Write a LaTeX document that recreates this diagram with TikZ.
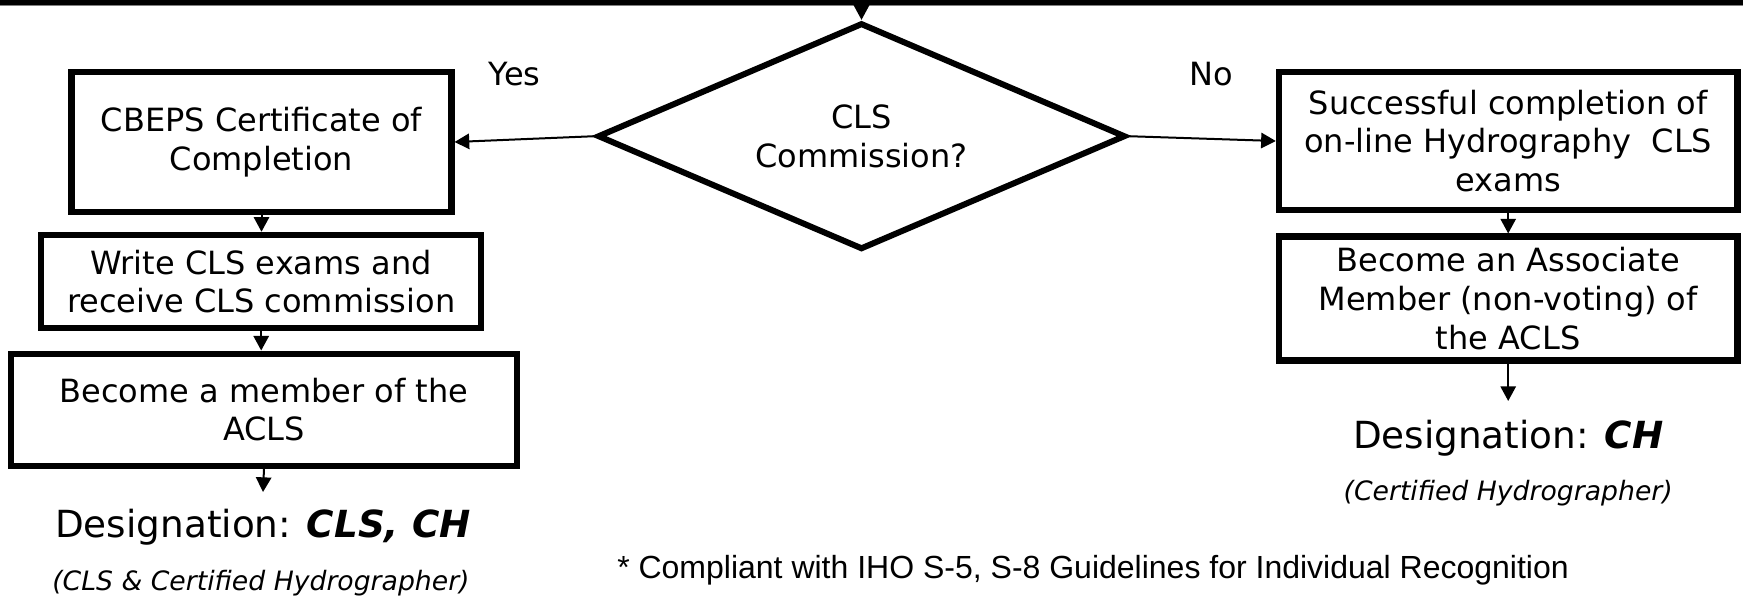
\documentclass[tikz,border=0pt]{standalone}
\usepackage{fontspec}
\setmainfont{DejaVu Sans}
\newfontfamily\arialfont{Liberation Sans}
\usetikzlibrary{shapes.geometric,arrows.meta}
\begin{document}
\begin{tikzpicture}[x=0.75pt,y=-0.75pt,
  box/.style={draw, line width=4.6pt, align=center, inner sep=0pt, font=\fontsize{24}{29}\selectfont},
  conn/.style={line width=1.5pt, -{Triangle[length=11pt,width=11.5pt]}},
  lbl/.style={font=\fontsize{24}{29}\selectfont},
  desig/.style={font=\fontsize{28}{34}\selectfont},
  subt/.style={font=\fontsize{20}{24}\selectfont\itshape},
  foot/.style={font=\arialfont\fontsize{24}{29}\selectfont, anchor=west, inner sep=0pt}]
\useasboundingbox (0,0) rectangle (1743,596);
\fill (0,0) rectangle (1743,5);
\draw[gray, line width=0.8pt] (0,5.6) -- (1743,5.6);

\node[diamond, draw, line width=4.5pt, aspect=2.26, minimum width=396pt, minimum height=170pt, inner sep=0pt, align=center, font=\fontsize{24}{29}\selectfont] (dia) at (861.5,136.2) {CLS\\Commission?};
\coordinate (top) at (861.5,5);

\node[box, minimum width=285pt, minimum height=105pt] (b1) at (261.5,142) {CBEPS Certificate of\\Completion};
\node[box, minimum width=330pt, minimum height=70pt] (b2) at (261.2,281.5) {Write CLS exams and\\receive CLS commission};
\node[box, minimum width=379pt, minimum height=84pt] (b3) at (264,409.6) {Become a member of the\\ACLS};

\node[box, minimum width=344pt, minimum height=104pt] (bA) at (1508.2,141) {Successful completion of\\on-line Hydrography\ \ CLS\\exams};
\node[box, minimum width=344pt, minimum height=93pt] (bB) at (1508.2,298.5) {Become an Associate\\Member (non-voting) of\\the ACLS};

\node[lbl] (yes) at (514.7,74.5) {Yes};
\node[lbl] (no) at (1211.6,74.5) {No};

\node[desig] (d1) at (263,527) {Designation: \textbf{\textit{CLS, CH}}};
\node[subt] (s1) at (261,583) {(CLS \& Certified Hydrographer)};
\node[desig] (d2) at (1508.2,438) {Designation: \textbf{\textit{CH}}};
\node[subt] (s2) at (1508.2,493) {(Certified Hydrographer)};

\node[foot] (fn) at (617,570) {* Compliant with IHO S-5, S-8 Guidelines for Individual Recognition};

\coordinate (e1) at (263,492);
\coordinate (e2) at (1508.2,401);

\draw[conn] (top) -- (dia.north);
\draw[conn] (dia.west) -- (b1.east);
\draw[conn] (dia.east) -- (bA.west);
\draw[conn] (b1.south) -- (b1.south |- b2.north);
\draw[conn] (b2.south) -- (b2.south |- b3.north);
\draw[conn] (b3.south) -- (e1);
\draw[conn] (bA.south) -- (bB.north);
\draw[conn] (bB.south) -- (e2);
\end{tikzpicture}
\end{document}
